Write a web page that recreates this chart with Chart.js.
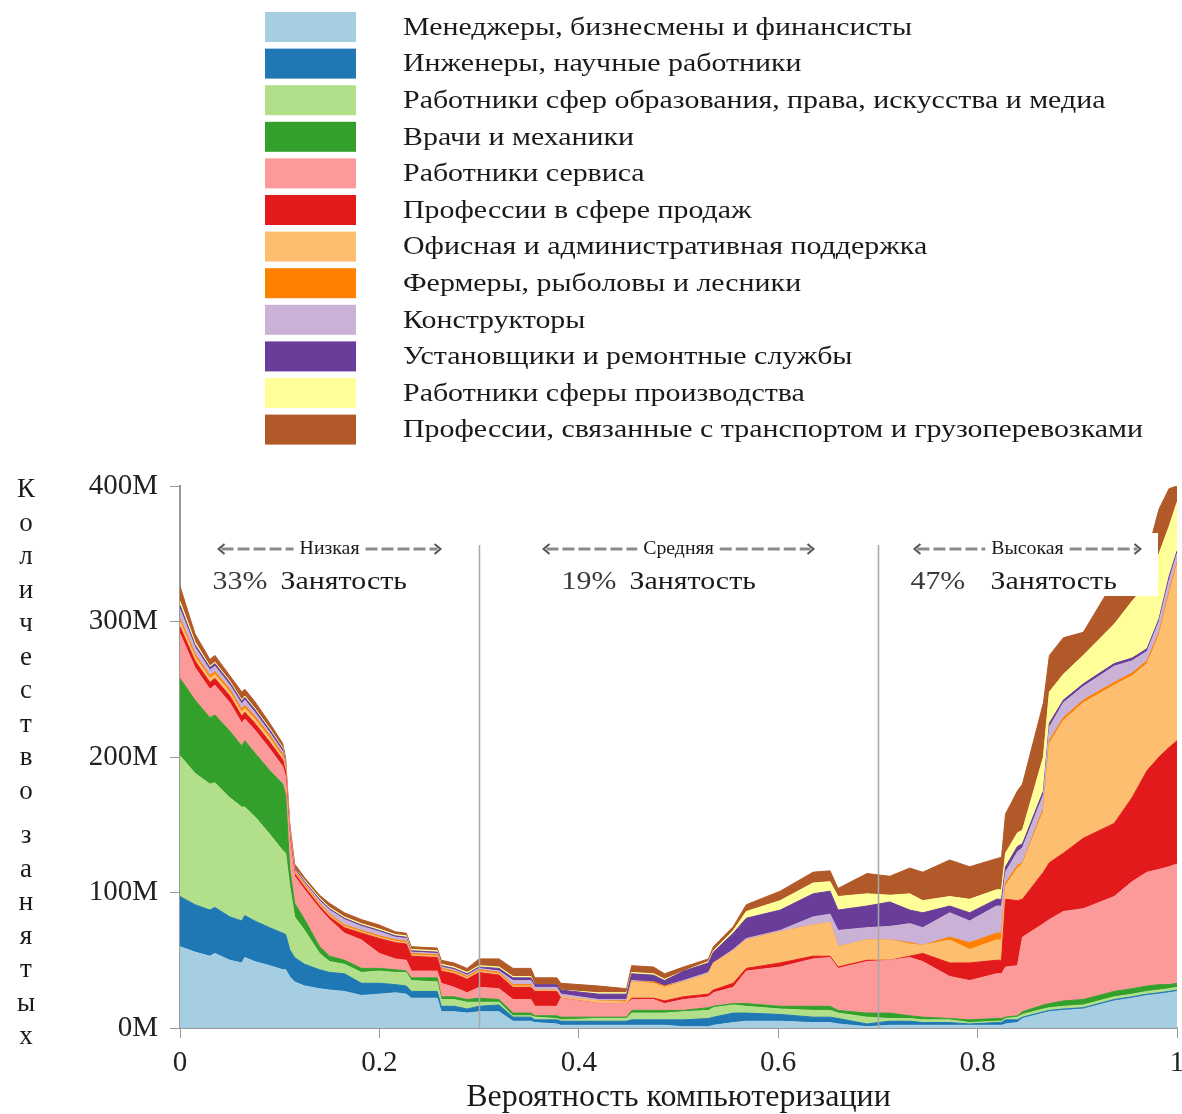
<!DOCTYPE html>
<html lang="ru">
<head>
<meta charset="utf-8">
<title>Вероятность компьютеризации</title>
<script src="https://cdn.jsdelivr.net/npm/chart.js@4.4.1/dist/chart.umd.min.js"></script>
<style>
  html, body { margin: 0; padding: 0; background: #fff; }
  #wrap { position: relative; width: 1182px; height: 1114px; }
</style>
</head>
<body>
<div id="wrap"><canvas id="grafico"></canvas></div>
<script>
// probabilidade de computerizacao (eixo x)
var probabilidade = [0, 0.015, 0.03, 0.035, 0.05, 0.062, 0.065, 0.075, 0.09, 0.103,
  0.106, 0.11, 0.115, 0.125, 0.14, 0.15, 0.165, 0.182, 0.2, 0.216,
  0.227, 0.232, 0.258, 0.262, 0.275, 0.288, 0.3, 0.32, 0.334, 0.352,
  0.356, 0.378, 0.382, 0.42, 0.448, 0.453, 0.475, 0.486, 0.505, 0.53,
  0.535, 0.555, 0.568, 0.602, 0.635, 0.652, 0.66, 0.689, 0.712, 0.732,
  0.745, 0.772, 0.792, 0.819, 0.824, 0.828, 0.84, 0.845, 0.866, 0.872,
  0.886, 0.906, 0.937, 0.955, 0.97, 0.982, 0.992, 1];

var categorias = [
  'Менеджеры, бизнесмены и финансисты',
  'Инженеры, научные работники',
  'Работники сфер образования, права, искусства и медиа',
  'Врачи и механики',
  'Работники сервиса',
  'Профессии в сфере продаж',
  'Офисная и административная поддержка',
  'Фермеры, рыболовы и лесники',
  'Конструкторы',
  'Установщики и ремонтные службы',
  'Работники сферы производства',
  'Профессии, связанные с транспортом и грузоперевозками'
];

var cores = ['#a6cee3', '#1f78b4', '#b2df8a', '#33a02c', '#fb9a99', '#e31a1c',
  '#fdbf6f', '#ff7f00', '#cab2d6', '#6a3d9a', '#ffff99', '#b15928'];

// milhoes de empregados por categoria
var managers = [60,56,53,55,50,48,52,49,46,43, 43,38,34,31,29,28,27,24,25,26,
  25,22,22,12,12,11,12,12,5,5, 4,3,2,2,2,2,2,2,1,1,
  2,4,5,5,4,4,3,1,2,2, 2,2,2,2,2,3,4,7,11,12, 13,14,20,22,24,25,26,27];
var engineers = [37,35,34,34,32,31,31,30,28,27, 26,20,18,16,14,13,13,9,8,6,
  6,5,5,4,4,3,4,5,3,3, 2,3,3,3,3,4,4,4,5,6,
  6,7,6,5,4,4,4,2,3,3, 2,2,1,2,2,3,2,1,1,1, 1,1,1,1,1,1,1,1];
var education = [104,97,93,92,88,84,80,77,69,61, 60,47,30,25,12,8,7,8,9,9,
  10,8,7,5,5,5,3,2,1,1, 2,1,1,2,2,5,5,5,6,6,
  7,6,5,4,5,5,4,5,2,2, 2,2,1,1,1,1,2,2,2,2, 2,2,2,2,2,2,2,2];
var doctors = [57,54,49,50,49,45,49,47,47,49, 43,13,10,8,5,4,3,3,2,2,
  1,2,3,2,2,2,3,2,2,2, 1,2,2,1,1,2,2,2,1,2,
  1,1,2,2,3,3,2,3,4,2, 2,1,2,2,2,1,1,2,3,3, 4,4,4,4,4,4,3,3];
var service = [33,24,21,22,21,17,16,17,16,13, 13,22,20,22,28,27,20,21,11,8,
  8,5,5,10,7,5,8,8,10,10, 7,7,14,10,10,8,8,5,8,8,
  10,12,24,29,35,36,31,38,39,43, 41,31,29,33,33,37,37,55,60,62, 66,67,70,79,84,85,87,88];
var sales = [5,5,5,5,5,5,5,5,5,5, 4,3,2,2,2,2,4,5,11,12,
  12,11,10,9,10,10,11,10,9,9, 11,11,0,0,0,1,1,2,2,2,
  2,3,2,3,2,1,1,1,0,1, 6,10,13,10,10,50,48,28,38,42, 43,52,54,62,75,83,88,91];
var office = [4,3,3,3,3,3,3,3,3,2, 2,2,1,1,1,1,1,1,1,1,
  1,1,1,1,1,1,1,1,1,1, 1,1,1,2,1,12,11,10,11,15,
  20,24,21,23,23,25,15,15,15,9, 6,17,10,15,15,10,24,26,45,88, 98,100,102,90,79,90,113,130];
var farmers = [2,2,2,2,2,2,2,2,2,2, 1,1,1,1,1,1,1,1,1,1,
  1,1,1,1,1,1,1,1,1,1, 0,0,0,0,1,0,1,1,0,0,
  0,0,0,0,0,0,0,0,0,1, 0,2,5,5,5,2,2,1,2,2, 2,2,2,2,2,2,2,2];
var construction = [7,5,4,4,3,4,4,3,2,2, 2,2,1,1,2,3,4,3,3,2,
  2,1,1,1,1,1,1,1,3,3, 2,2,2,1,1,1,0,0,1,1,
  0,1,1,1,6,6,12,9,10,14, 13,18,16,20,20,8,10,11,10,10, 11,10,12,9,7,8,8,6];
var installers = [3,2,2,2,2,2,2,2,2,2, 1,1,1,1,1,1,1,1,1,1,
  1,1,1,1,1,1,1,2,2,2, 2,2,3,4,4,5,5,4,7,7,
  8,12,15,15,17,17,15,16,18,10, 11,5,6,5,5,4,4,3,3,3, 2,2,2,2,2,2,3,2];
var production = [3,2,1,1,1,1,1,1,1,1, 1,1,0,1,1,1,1,1,1,1,
  1,1,1,1,1,1,1,1,1,1, 0,0,0,1,1,1,1,1,0,1,
  1,2,5,7,8,7,10,9,5,12, 9,7,10,7,7,10,10,10,25,23, 19,21,29,42,48,48,37,36];
var transport = [11,6,5,5,4,6,5,5,4,3, 3,2,3,2,2,3,3,3,3,2,
  2,2,2,3,3,3,5,6,6,6, 5,5,5,5,3,5,5,4,3,2,
  3,3,5,7,8,8,6,15,14,19, 21,27,24,23,24,29,31,34,40,27, 27,17,32,25,22,33,28,12];

var yTicks = [0, 100, 200, 300, 400];

var series = [managers, engineers, education, doctors, service, sales,
  office, farmers, construction, installers, production, transport];

// faixas de risco: texto do topo
var faixas = [
  { centro: 0.15, meia: 112, nome: 'Низкая', pct: '33%', desl: 49 },
  { centro: 0.5, meia: 136, nome: 'Средняя', pct: '19%', desl: 49 },
  { centro: 0.85, meia: 114, nome: 'Высокая', pct: '47%', desl: 37 }
];
var divisorias = [0.3, 0.7];

var serif = '"Liberation Serif", "Times New Roman", Times, serif';
Chart.defaults.font.family = serif;

// texto esticado na horizontal, como na figura original
var textoLargo = function (ctx, txt, x, y, sx) {
  ctx.save();
  ctx.translate(x, y);
  ctx.scale(sx, 1);
  ctx.fillText(txt, 0, 0);
  ctx.restore();
};

var datasets = series.map(function (s, i) {
  return {
    label: categorias[i],
    data: probabilidade.map(function (p, j) { return { x: p, y: s[j] }; }),
    backgroundColor: cores[i],
    borderColor: cores[i],
    borderWidth: 1,
    pointRadius: 0,
    tension: 0,
    fill: i === 0 ? 'origin' : '-1'
  };
});

var legendaPlugin = {
  id: 'legenda',
  afterDraw: function (chart) {
    var ctx = chart.ctx;
    ctx.save();
    chart.data.datasets.forEach(function (ds, i) {
      var y = 12 + i * 36.6;
      ctx.fillStyle = ds.backgroundColor;
      ctx.fillRect(265, y, 91, 30);
      ctx.fillStyle = '#1a1a1a';
      ctx.font = '26px ' + serif;
      ctx.textBaseline = 'middle';
      ctx.textAlign = 'left';
      textoLargo(ctx, ds.label, 403, y + 16, 1.15);
    });

    // titulo vertical do eixo y
    var titulo = 'Количество занятых';
    var yy = 490;
    ctx.fillStyle = '#1a1a1a';
    ctx.font = '27px ' + serif;
    ctx.textAlign = 'center';
    ctx.textBaseline = 'middle';
    for (var k = 0; k < titulo.length; k++) {
      var ch = titulo[k];
      if (ch === ' ') { yy += 11; continue; }
      ctx.fillText(ch, 26, yy);
      yy += 33.5;
    }
    ctx.restore();
  }
};

var faixasPlugin = {
  id: 'faixas',
  afterDatasetsDraw: function (chart) {
    var ctx = chart.ctx;
    var xs = chart.scales.x;
    var area = chart.chartArea;
    ctx.save();

    // linhas divisorias
    ctx.strokeStyle = '#a8a8a8';
    ctx.lineWidth = 1.5;
    divisorias.forEach(function (d) {
      var px = Math.round(xs.getPixelForValue(d)) + 0.5;
      ctx.beginPath();
      ctx.moveTo(px, 545);
      ctx.lineTo(px, area.bottom);
      ctx.stroke();
    });

    // fundo branco do rotulo da direita
    ctx.fillStyle = '#ffffff';
    ctx.fillRect(900, 533, 258, 63);

    faixas.forEach(function (f) {
      var cx = xs.getPixelForValue(f.centro);
      var yA = 549;
      ctx.font = '18px ' + serif;
      ctx.textAlign = 'center';
      ctx.textBaseline = 'middle';
      var tw = ctx.measureText(f.nome).width * 1.1;
      ctx.fillStyle = '#1a1a1a';
      textoLargo(ctx, f.nome, cx, yA, 1.1);

      ctx.strokeStyle = '#8a8a8a';
      ctx.lineWidth = 3;
      ctx.setLineDash([12, 4]);
      ctx.beginPath();
      ctx.moveTo(cx - f.meia + 4, yA);
      ctx.lineTo(cx - tw / 2 - 6, yA);
      ctx.moveTo(cx + tw / 2 + 6, yA);
      ctx.lineTo(cx + f.meia - 4, yA);
      ctx.stroke();
      ctx.setLineDash([]);
      ctx.lineWidth = 2;
      ctx.strokeStyle = '#555';
      ctx.beginPath();
      ctx.moveTo(cx - f.meia + 7, yA - 5);
      ctx.lineTo(cx - f.meia + 1, yA);
      ctx.lineTo(cx - f.meia + 7, yA + 5);
      ctx.moveTo(cx + f.meia - 7, yA - 5);
      ctx.lineTo(cx + f.meia - 1, yA);
      ctx.lineTo(cx + f.meia - 7, yA + 5);
      ctx.stroke();

      ctx.textAlign = 'left';
      ctx.textBaseline = 'alphabetic';
      ctx.font = '26px ' + serif;
      ctx.fillStyle = '#3a3a3a';
      textoLargo(ctx, f.pct, cx - 117, 589, 1.15);
      ctx.fillStyle = '#1a1a1a';
      textoLargo(ctx, 'Занятость', cx - f.desl, 589, 1.15);
    });
    ctx.restore();
  }
};

var grafico = new Chart(document.getElementById('grafico'), {
  type: 'line',
  data: { datasets: datasets },
  plugins: [legendaPlugin, faixasPlugin],
  options: {
    responsive: true,
    maintainAspectRatio: false,
    animation: false,
    layout: { padding: { top: 486, left: 0, right: 5, bottom: 0 } },
    plugins: {
      legend: { display: false },
      tooltip: { enabled: false }
    },
    scales: {
      x: {
        type: 'linear',
        min: 0,
        max: 1,
        ticks: {
          stepSize: 0.2,
          color: '#222',
          font: { size: 29 },
          padding: 8,
          maxRotation: 0,
          callback: function (v) { return String(Math.round(v * 10) / 10); }
        },
        grid: { drawOnChartArea: false, drawTicks: true, tickLength: 10, color: '#999' },
        border: { display: true, color: '#999', width: 2 },
        title: {
          display: true,
          text: 'Вероятность компьютеризации',
          color: '#1a1a1a',
          font: { size: 32, lineHeight: 1.0 },
          padding: { top: 0, bottom: 0 }
        },
        afterFit: function (scale) {
          scale.height = 86;
          scale.paddingRight = 0;
          scale.paddingLeft = 0;
        }
      },
      y: {
        stacked: true,
        min: 0,
        max: 400,
        afterBuildTicks: function (scale) {
          scale.ticks = yTicks.map(function (v) { return { value: v }; });
        },
        ticks: {
          color: '#222',
          font: { size: 29 },
          padding: 12,
          callback: function (v) { return v + 'M'; }
        },
        grid: { drawOnChartArea: false, drawTicks: true, tickLength: 10, color: '#999' },
        border: { display: true, color: '#999', width: 2 },
        afterFit: function (scale) {
          scale.width = 180;
          scale.paddingTop = 0;
          scale.paddingBottom = 0;
        }
      }
    }
  }
});
</script>
</body>
</html>
